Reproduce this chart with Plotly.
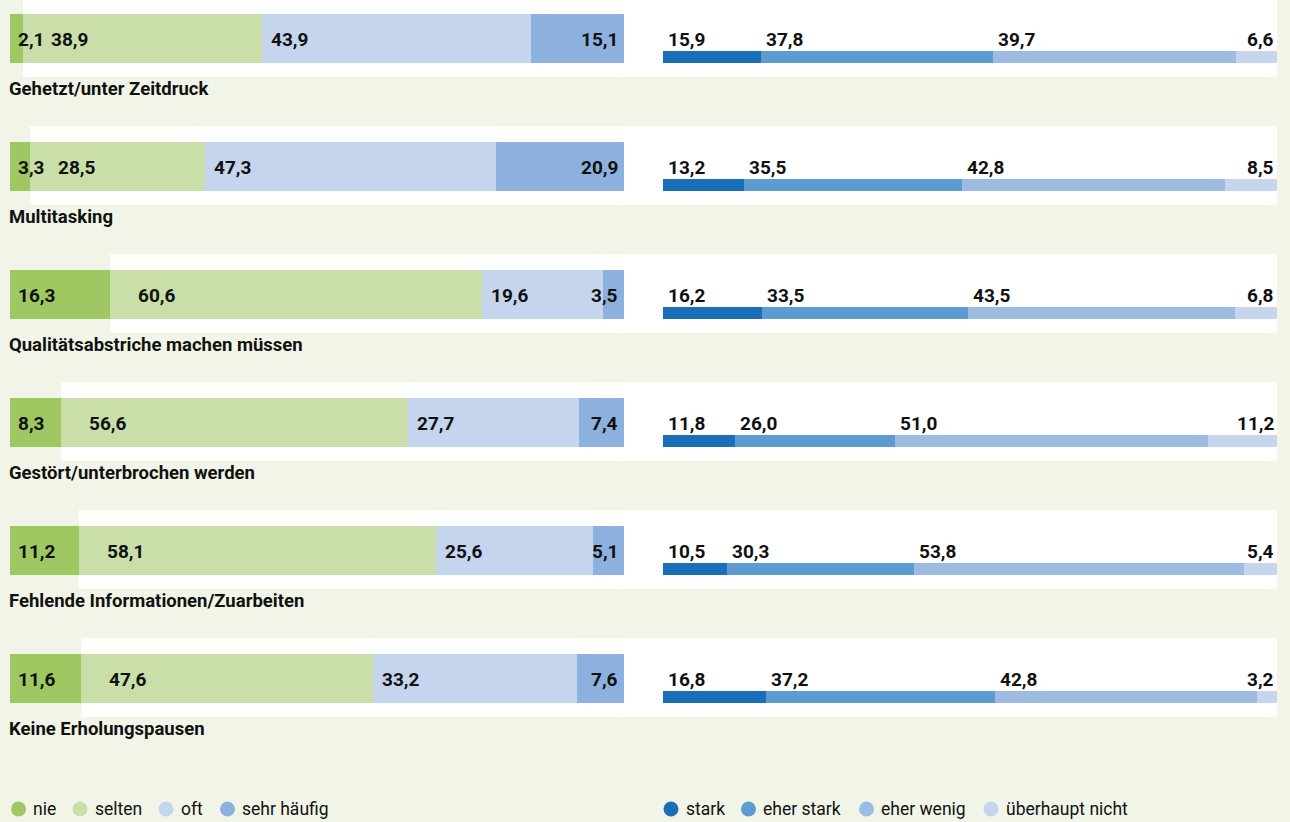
import plotly.graph_objects as go

# ---------------------------------------------------------------- data
categories = [
    "Gehetzt/unter Zeitdruck",
    "Multitasking",
    "Qualitätsabstriche machen müssen",
    "Gestört/unterbrochen werden",
    "Fehlende Informationen/Zuarbeiten",
    "Keine Erholungspausen",
]

# Wie häufig kommt es vor? (Prozent)
freq_names = ["nie", "selten", "oft", "sehr häufig"]
nie = [2.1, 3.3, 16.3, 8.3, 11.2, 11.6]
selten = [38.9, 28.5, 60.6, 56.6, 58.1, 47.6]
oft = [43.9, 47.3, 19.6, 27.7, 25.6, 33.2]
sehr_haeufig = [15.1, 20.9, 3.5, 7.4, 5.1, 7.6]

# Wie stark belastet das? (Prozent)
strain_names = ["stark", "eher stark", "eher wenig", "überhaupt nicht"]
stark = [15.9, 13.2, 16.2, 11.8, 10.5, 16.8]
eher_stark = [37.8, 35.5, 33.5, 26.0, 30.3, 37.2]
eher_wenig = [39.7, 42.8, 43.5, 51.0, 53.8, 42.8]
ueberhaupt_nicht = [6.6, 8.5, 6.8, 11.2, 5.4, 3.2]

# ---------------------------------------------------------------- styling
freq_colors = ["#9fc862", "#c9dea8", "#c5d5ee", "#8db1de"]
strain_colors = ["#1b6fb8", "#5e9bd3", "#9dbbe3", "#c5d5ee"]
BG = "#f1f5e8"
INK = "#111111"
FONT = "Roboto"

W, H = 1290, 822
LEFT_X = (10, 624)
RIGHT_X = (663, 1277)
ROW_TOP, ROW_STEP = 14, 128
BAR_H, THIN_H = 48.7, 12
BAND_ABOVE, BAND_BELOW = 16, 14

# label offsets (px) per segment of the left bars: (anchor, shift)
freq_label_pos = [("left", 6), ("left", 26), ("left", 7), ("right", -4)]

# legend layout: circle centres in px
freq_legend_x = [18.5, 80, 166, 227.5]
strain_legend_x = [671, 748.5, 866.5, 991]
LEGEND_Y = 809

freq_series = [nie, selten, oft, sehr_haeufig]
strain_series = [stark, eher_stark, eher_wenig, ueberhaupt_nicht]
n = len(categories)

tops = [ROW_TOP + i * ROW_STEP for i in range(n)]
bottoms = [t + BAR_H for t in tops]
centers = [t + BAR_H / 2 for t in tops]
thin_centers = [b - THIN_H / 2 for b in bottoms]


def stack_bases(series):
    bases, run = [], [0.0] * n
    for s in series:
        bases.append(list(run))
        run = [round(r + v, 6) for r, v in zip(run, s)]
    return bases


freq_bases = stack_bases(freq_series)
strain_bases = stack_bases(strain_series)

fig = go.Figure()

for name, vals, base, col in zip(freq_names, freq_series, freq_bases, freq_colors):
    fig.add_trace(go.Bar(
        orientation="h", x=vals, base=base, y=centers, width=BAR_H,
        marker=dict(color=col, line=dict(width=0)), name=name,
        xaxis="x", yaxis="y", showlegend=False, hoverinfo="skip",
    ))

for name, vals, base, col in zip(strain_names, strain_series, strain_bases, strain_colors):
    fig.add_trace(go.Bar(
        orientation="h", x=vals, base=base, y=thin_centers, width=THIN_H,
        marker=dict(color=col, line=dict(width=0)), name=name,
        xaxis="x2", yaxis="y", showlegend=False, hoverinfo="skip",
    ))

shapes = []
annotations = []


def fmt(v):
    return f"{v:.1f}".replace(".", ",")


num_font = dict(family=FONT, size=19, color=INK, weight=700)

for i in range(n):
    # white band behind the row, starting where "nie" ends
    y0, y1 = tops[i] - BAND_ABOVE, bottoms[i] + BAND_BELOW
    shapes.append(dict(type="rect", layer="below", xref="x", yref="y",
                       x0=nie[i], x1=100, y0=y0, y1=y1,
                       fillcolor="white", line=dict(width=0)))
    shapes.append(dict(type="rect", layer="below", xref="paper", yref="y",
                       x0=(LEFT_X[1] - 2) / W, x1=RIGHT_X[1] / W, y0=y0, y1=y1,
                       fillcolor="white", line=dict(width=0)))

    # values inside the left bars
    for k, (vals, base) in enumerate(zip(freq_series, freq_bases)):
        anchor, shift = freq_label_pos[k]
        x = base[i] if anchor == "left" else min(base[i] + vals[i], 100)
        annotations.append(dict(xref="x", yref="y", x=x, y=centers[i] + 1,
                                text=fmt(vals[i]), showarrow=False,
                                xanchor=anchor, yanchor="middle", xshift=shift,
                                font=num_font))

    # values above the thin right bars
    for k, (vals, base) in enumerate(zip(strain_series, strain_bases)):
        last = k == len(strain_series) - 1
        x = min(base[i] + vals[i], 100) if last else base[i]
        annotations.append(dict(xref="x2", yref="y", x=x, y=centers[i] + 1,
                                text=fmt(vals[i]), showarrow=False,
                                xanchor="right" if last else "left",
                                yanchor="middle", xshift=-1 if last else 3,
                                font=num_font))

    # category label
    annotations.append(dict(xref="paper", yref="y", x=(LEFT_X[0] - 3) / W,
                            y=bottoms[i] + 26, text=categories[i],
                            showarrow=False, xanchor="left", yanchor="middle",
                            font=dict(family=FONT, size=18.5, color=INK, weight=700)))

# legends
R = 7.5
for names, cols, xs in ((freq_names, freq_colors, freq_legend_x),
                        (strain_names, strain_colors, strain_legend_x)):
    for name, col, cx in zip(names, cols, xs):
        shapes.append(dict(type="circle", xref="paper", yref="y",
                           x0=(cx - R) / W, x1=(cx + R) / W,
                           y0=LEGEND_Y - R, y1=LEGEND_Y + R,
                           fillcolor=col, line=dict(width=0)))
        annotations.append(dict(xref="paper", yref="y", x=(cx + 12.5) / W,
                                y=LEGEND_Y, text=name, showarrow=False,
                                xanchor="left", yanchor="middle",
                                font=dict(family=FONT, size=17.5, color=INK)))

axis_off = dict(visible=False, fixedrange=True, showgrid=False, zeroline=False)
fig.update_layout(
    width=W, height=H,
    margin=dict(l=0, r=0, t=0, b=0),
    paper_bgcolor=BG, plot_bgcolor=BG,
    barmode="overlay", bargap=0,
    xaxis=dict(domain=[LEFT_X[0] / W, LEFT_X[1] / W], range=[0, 100],
               anchor="y", **axis_off),
    xaxis2=dict(domain=[RIGHT_X[0] / W, RIGHT_X[1] / W], range=[0, 100],
                anchor="y", **axis_off),
    yaxis=dict(domain=[0, 1], range=[H, 0], **axis_off),
    shapes=shapes,
    annotations=annotations,
    showlegend=False,
)

fig.write_html("out.html", config=dict(displayModeBar=False))
